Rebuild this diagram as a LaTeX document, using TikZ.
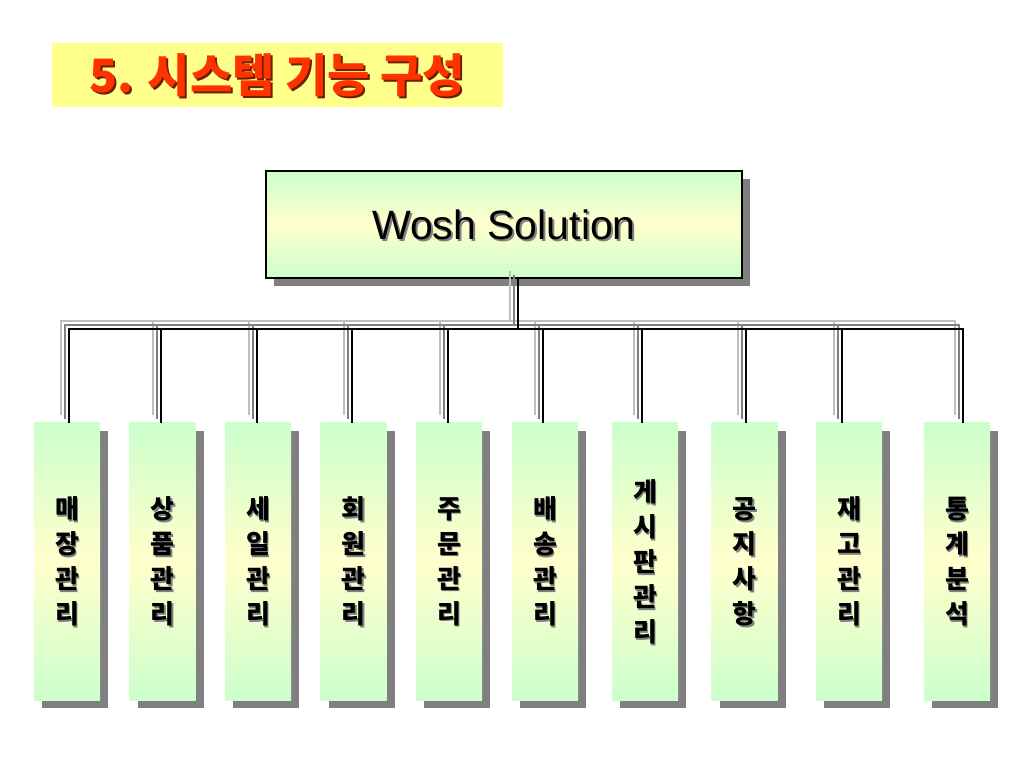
\documentclass[tikz,border=0pt]{standalone}
\usepackage{fontspec}
\setmainfont{Liberation Sans}
\newfontfamily\kr{Noto Sans CJK KR}
\usetikzlibrary{shadows}

\definecolor{boxgreen}{RGB}{204,255,204}
\definecolor{boxyellow}{RGB}{255,255,204}
\definecolor{shadowgray}{RGB}{128,128,128}
\definecolor{titleyellow}{RGB}{255,255,140}
\definecolor{titlered}{RGB}{255,51,0}
\definecolor{titleshadow}{RGB}{110,30,0}

\tikzset{
  boxshadow/.style={drop shadow={shadow xshift=8pt,shadow yshift=-8pt,fill=shadowgray,opacity=1}},
  funcbox/.style={minimum width=66pt,minimum height=277pt,inner sep=0pt,
    top color=boxgreen,bottom color=boxgreen,middle color=boxyellow,boxshadow},
  functext/.style={font=\kr\bfseries\fontsize{26}{35}\selectfont,align=center},
  topbox/.style={draw=black,line width=1.2pt,minimum width=476pt,minimum height=107pt,
    top color=boxgreen,bottom color=boxgreen,middle color=boxyellow,boxshadow},
  toptext/.style={font=\fontsize{41}{48}\selectfont},
  titlebox/.style={fill=titleyellow,minimum width=451pt,minimum height=64pt},
  titletext/.style={font=\kr\bfseries\fontsize{46}{52}\selectfont},
  busline/.style={line width=1.6pt}
}

\begin{document}
\begin{tikzpicture}[x=1pt,y=1pt]

\path[use as bounding box,fill=white] (0,0) rectangle (1024,768);

% title
\node[titlebox,titletext,text=titlered,
  path picture={\node[titletext,text=titleshadow] at ([shift={(2pt,-2pt)}]path picture bounding box.center) {5. 시스템 기능 구성};}]
  (title) at (277.5,693) {5. 시스템 기능 구성};

% root
\node[topbox,toptext,
  path picture={\node[toptext,text=shadowgray] at ([shift={(2pt,-2pt)}]path picture bounding box.center) {Wosh Solution};}]
  (top) at (504,543.5) {Wosh Solution};

\coordinate (bus) at (518,439);

% function boxes
\foreach \i/\x/\d/\t in {1/67/2/매\\장\\관\\리, 2/162.5/-1.5/상\\품\\관\\리,
    3/258/-1/세\\일\\관\\리, 4/353.5/-1.5/회\\원\\관\\리, 5/449/-1/주\\문\\관\\리,
    6/545/-2/배\\송\\관\\리, 7/645/-3/게\\시\\판\\관\\리, 8/744.5/1.5/공\\지\\사\\항,
    9/849/-7/재\\고\\관\\리, 10/957/6/통\\계\\분\\석}{
  \node[funcbox,functext,
    path picture={\node[functext,text=shadowgray] at ([shift={(1.8pt,-1.8pt)}]path picture bounding box.center) {\t};}]
    (b\i) at (\x,206.5) {\t};
  \path (b\i.north) ++(\d,0) coordinate (t\i);
}

% connectors, drawn three times for the shadow
\foreach \c/\s in {lightgray/8,gray/4,black/0}{
  \begin{scope}[transform canvas={shift={(-\s pt,\s pt)}},draw=\c,busline]
    \draw (top.south -| bus) -- (bus);
    \draw (t1) |- (bus) -| (t10);
    \foreach \i in {2,...,9}
      \draw (t\i |- bus) -- (t\i);
  \end{scope}
}

\end{tikzpicture}
\end{document}
